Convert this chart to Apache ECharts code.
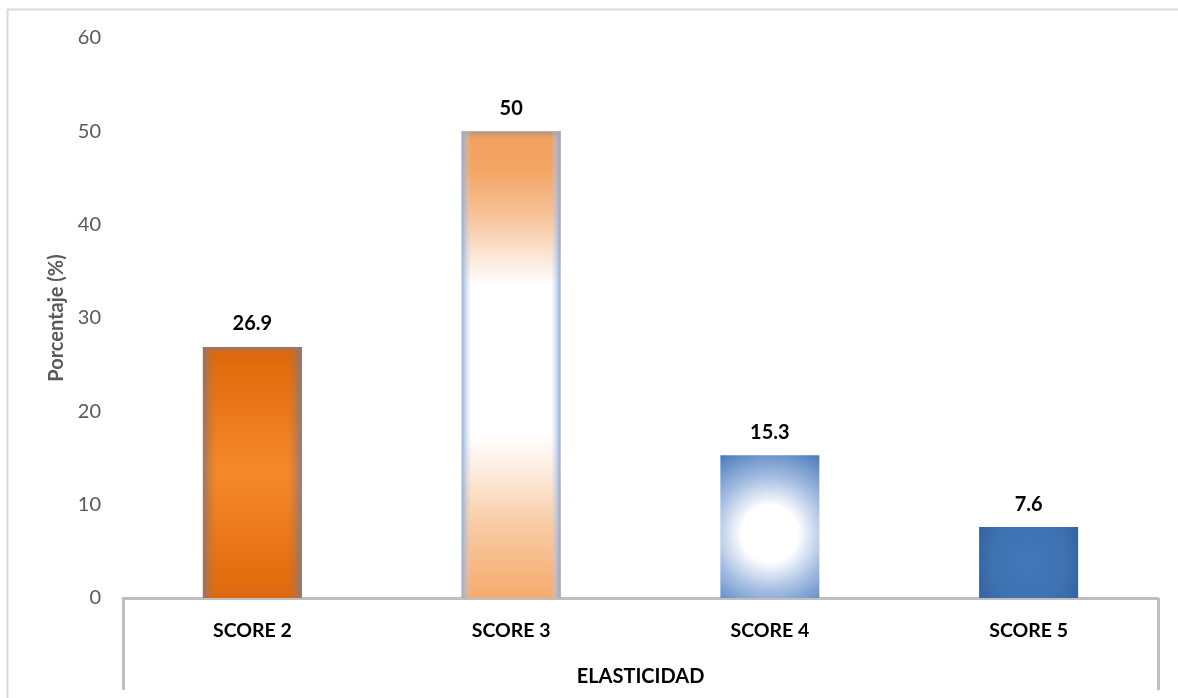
<!DOCTYPE html>
<html>
<head>
<meta charset="utf-8">
<script src="https://cdn.jsdelivr.net/npm/echarts@6/dist/echarts.min.js"></script>
<style>
  html, body { margin: 0; padding: 0; background: #ffffff; }
  #chart { width: 1178px; height: 698px; }
</style>
</head>
<body>
<div id="chart"></div>
<script>
// Elasticidad: distribución por score
const categories = ['SCORE 2', 'SCORE 3', 'SCORE 4', 'SCORE 5'];
const values = [26.9, 50, 15.3, 7.6];
const yTicks = { min: 0, max: 60, interval: 10 };

const FONT = 'Lato, "Open Sans", sans-serif';
const lin = (x, y, x2, y2, stops) => ({
  type: 'linear', x, y, x2, y2,
  colorStops: stops.map(([offset, color]) => ({ offset, color }))
});
const rad = (x, y, r, stops) => ({
  type: 'radial', x, y, r,
  colorStops: stops.map(([offset, color]) => ({ offset, color }))
});

// base fill for each bar
const baseFills = [
  lin(0, 0, 0, 1, [[0, '#8f7c78'], [0.02, '#d9690f'], [0.08, '#e26c0e'], [0.5, '#f58a2c'], [0.93, '#e26c0e'], [1, '#dc6a14']]),
  lin(0, 0, 0, 1, [[0, '#ad9486'], [0.015, '#f2a05e'], [0.08, '#f3a463'], [0.18, '#f7c297'], [0.27, '#fce8d8'], [0.33, '#ffffff'], [0.65, '#ffffff'], [0.72, '#fdeee1'], [0.84, '#f9cca6'], [1, '#f5ab6c']]),
  rad(0.5, 0.55, 0.95, [[0, '#ffffff'], [0.3, '#ffffff'], [0.6, '#a6bfe2'], [1, '#4576b9']]),
  rad(0.5, 0.5, 0.9, [[0, '#4478b8'], [0.6, '#3f72b2'], [1, '#3766a3']])
];
// soft side shading laid over the base fill
const edgeFills = [
  lin(0, 0, 1, 0, [[0, 'rgba(125,120,140,0.85)'], [0.14, 'rgba(200,110,40,0)'], [0.86, 'rgba(200,110,40,0)'], [1, 'rgba(125,120,140,0.85)']]),
  lin(0, 0, 1, 0, [[0, 'rgba(140,172,220,0.95)'], [0.1, 'rgba(200,215,240,0)'], [0.9, 'rgba(200,215,240,0)'], [1, 'rgba(140,165,210,0.95)']]),
  lin(0, 0, 1, 0, [[0, 'rgba(70,120,185,0)'], [1, 'rgba(70,120,185,0)']]),
  lin(0, 0, 1, 0, [[0, 'rgba(50,90,150,0.35)'], [0.15, 'rgba(50,90,150,0)'], [0.85, 'rgba(50,90,150,0)'], [1, 'rgba(50,90,150,0.35)']])
];

const chart = echarts.init(document.getElementById('chart'), null, { renderer: 'canvas' });

chart.setOption({
  backgroundColor: '#ffffff',
  animation: false,
  graphic: [{
    type: 'rect',
    shape: { x: 7.5, y: 9.5, width: 1180, height: 700 },
    style: { fill: 'none', stroke: '#d9d9d9', lineWidth: 2 },
    silent: true
  }],
  grid: { left: 123, right: 20, top: 38, bottom: 100 },
  xAxis: {
    type: 'category',
    data: categories,
    name: 'ELASTICIDAD',
    nameLocation: 'middle',
    nameGap: 69,
    nameTextStyle: { fontFamily: FONT, fontWeight: 'bold', fontSize: 20, color: '#000000' },
    axisLine: { show: true, lineStyle: { color: '#bfbfbf', width: 3 } },
    axisTick: { show: true, length: 92, interval: (i) => i === 0, lineStyle: { color: '#bfbfbf', width: 3 } },
    axisLabel: { interval: 0, margin: 23, fontFamily: FONT, fontWeight: 'bold', fontSize: 19.5, color: '#000000' }
  },
  yAxis: {
    type: 'value',
    min: yTicks.min,
    max: yTicks.max,
    interval: yTicks.interval,
    name: 'Porcentaje (%)',
    nameLocation: 'middle',
    nameGap: 54,
    nameRotate: 90,
    nameTextStyle: { fontFamily: FONT, fontWeight: 'bold', fontSize: 20, color: '#595959' },
    axisLine: { show: false },
    axisTick: { show: false },
    splitLine: { show: false },
    axisLabel: { margin: 22, fontFamily: FONT, fontSize: 20, color: '#595959' }
  },
  series: [
    {
      type: 'bar',
      barWidth: 99,
      data: values.map((v, i) => ({ value: v, itemStyle: { color: baseFills[i] } })),
      label: {
        show: true, position: 'top', distance: 13,
        fontFamily: FONT, fontWeight: 'bold', fontSize: 20, color: '#000000'
      }
    },
    {
      type: 'bar',
      barWidth: 99,
      barGap: '-100%',
      silent: true,
      data: values.map((v, i) => ({ value: v, itemStyle: { color: edgeFills[i] } }))
    }
  ]
});
</script>
</body>
</html>
